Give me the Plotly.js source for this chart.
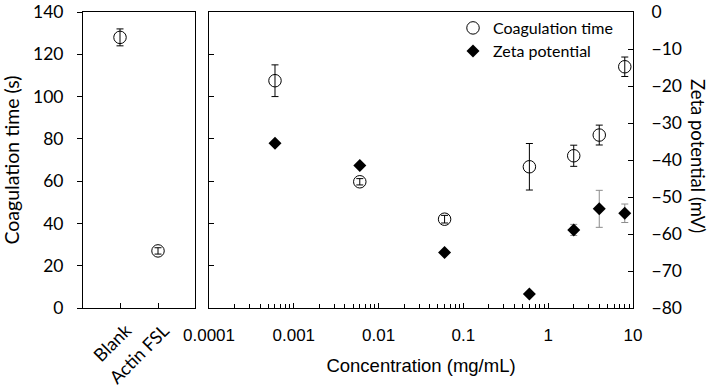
<!DOCTYPE html>
<html>
<head>
<meta charset="utf-8">
<script src="https://cdn.plot.ly/plotly-3.0.1.min.js"></script>
<style>
  html, body { margin: 0; padding: 0; background: #fff; }
  #chart { width: 711px; height: 390px; }
</style>
</head>
<body>
<div id="chart"></div>
<script>
// Control samples (left panel)
const categories = ['Blank', 'Actin FSL'];
const ctrlCoag = [128, 27];
const ctrlCoagErr = [4, 1.5];

// Concentration series (right panel)
const conc = [0.0006, 0.006, 0.06, 0.6, 2, 4, 8];
const coagTime = [107.5, 59.7, 42, 66.8, 72, 81.8, 114.1];
const coagErr = [7.5, 1.5, 1.8, 11, 5, 4.7, 4.6];
const zeta = [-35.5, -41.5, -65, -76.2, -58.9, -53.2, -54.4];
const zetaErr = [0.5, 0.5, 0.5, 0.5, 1.5, 5, 2.5];

const W = 711, H = 390;
const px = v => v / W;
const py = v => 1 - v / H;

const calib = 'Lato, "Open Sans", sans-serif';
const arial = '"Liberation Sans", Arial, sans-serif';

const traces = [
  {
    x: categories, y: ctrlCoag, xaxis: 'x', yaxis: 'y',
    type: 'scatter', mode: 'markers', showlegend: false,
    marker: { symbol: 'circle-open', size: 12.5, color: '#000', line: { width: 1, color: '#000' } },
    error_y: { type: 'data', array: ctrlCoagErr, visible: true, color: '#000', thickness: 1, width: 3.5 }
  },
  {
    name: 'Coagulation time', legend: 'legend',
    x: conc, y: coagTime, xaxis: 'x2', yaxis: 'y2',
    type: 'scatter', mode: 'markers',
    marker: { symbol: 'circle-open', size: 12.5, color: '#000', line: { width: 1, color: '#000' } },
    error_y: { type: 'data', array: coagErr, visible: true, color: '#000', thickness: 1, width: 3.5 }
  },
  {
    name: 'Zeta potential', legend: 'legend2',
    x: conc, y: zeta, xaxis: 'x2', yaxis: 'y3',
    type: 'scatter', mode: 'markers',
    marker: { symbol: 'diamond', size: 10, color: '#000' },
    error_y: { type: 'data', array: zetaErr, visible: true, color: '#8c8c8c', thickness: 1, width: 3.5 }
  }
];

const yDom = [py(308), py(12)];

const legendStyle = (yCenter) => ({
  x: px(453), y: py(yCenter), xanchor: 'left', yanchor: 'middle',
  bgcolor: 'rgba(0,0,0,0)', borderwidth: 0,
  font: { family: calib, size: 16, color: '#000' }
});

const layout = {
  width: W, height: H,
  margin: { l: 0, r: 0, t: 0, b: 0 },
  paper_bgcolor: '#fff', plot_bgcolor: '#fff',
  font: { family: calib, color: '#000' },
  showlegend: true,
  legend: legendStyle(28),
  legend2: legendStyle(51),
  xaxis: {
    domain: [px(83), px(195)], anchor: 'y', type: 'category',
    range: [-0.974, 1.974],
    showline: true, linecolor: '#000', linewidth: 1, mirror: true,
    ticks: 'inside', ticklen: 5, tickcolor: '#000',
    tickangle: -45, ticklabelstandoff: 4, ticklabelshift: 6,
    tickfont: { family: calib, size: 18, color: '#000' },
    showgrid: false, zeroline: false, fixedrange: true
  },
  yaxis: {
    domain: yDom, anchor: 'x', range: [0, 140], dtick: 20,
    showline: true, linecolor: '#000', linewidth: 1, mirror: true,
    ticks: 'outside', ticklen: 5, tickcolor: '#000', ticklabelstandoff: 10,
    tickfont: { family: calib, size: 17.5, color: '#000' },
    showgrid: false, zeroline: false,
    title: { text: 'Coagulation time (s)', font: { family: calib, size: 19.5, color: '#000' }, standoff: 9 }
  },
  xaxis2: {
    domain: [px(209), px(633)], anchor: 'y2', type: 'log',
    range: [-4, 1], dtick: 1, exponentformat: 'none',
    showline: true, linecolor: '#000', linewidth: 1, mirror: true,
    ticks: 'inside', ticklen: 5, tickcolor: '#000', ticklabelstandoff: 12,
    minor: { ticks: 'inside', ticklen: 4, tickcolor: '#000', dtick: 'D1', showgrid: false },
    tickfont: { family: arial, size: 17, color: '#000' },
    showgrid: false, zeroline: false,
    title: { text: 'Concentration (mg/mL)', font: { family: arial, size: 18.5, color: '#000' }, standoff: 14 }
  },
  yaxis2: {
    domain: yDom, anchor: 'x2', range: [0, 140], dtick: 20,
    showline: true, linecolor: '#000', linewidth: 1, mirror: true,
    ticks: 'inside', ticklen: 5, tickcolor: '#000',
    showticklabels: false, showgrid: false, zeroline: false
  },
  yaxis3: {
    domain: yDom, anchor: 'x2', overlaying: 'y2', side: 'right',
    range: [-80, 0], dtick: 10,
    showline: true, linecolor: '#000', linewidth: 1,
    ticks: 'inside', ticklen: 5, tickcolor: '#000', ticklabelstandoff: 14,
    tickfont: { family: calib, size: 17.5, color: '#000' },
    showgrid: false, zeroline: false
  },
  annotations: [
    {
      text: 'Zeta potential (mV)', xref: 'paper', yref: 'paper',
      x: px(698), y: py(156), xanchor: 'center', yanchor: 'middle',
      textangle: 90, showarrow: false,
      font: { family: calib, size: 18.5, color: '#000' }
    }
  ]
};

Plotly.newPlot('chart', traces, layout, { staticPlot: true, displayModeBar: false });
</script>
</body>
</html>
